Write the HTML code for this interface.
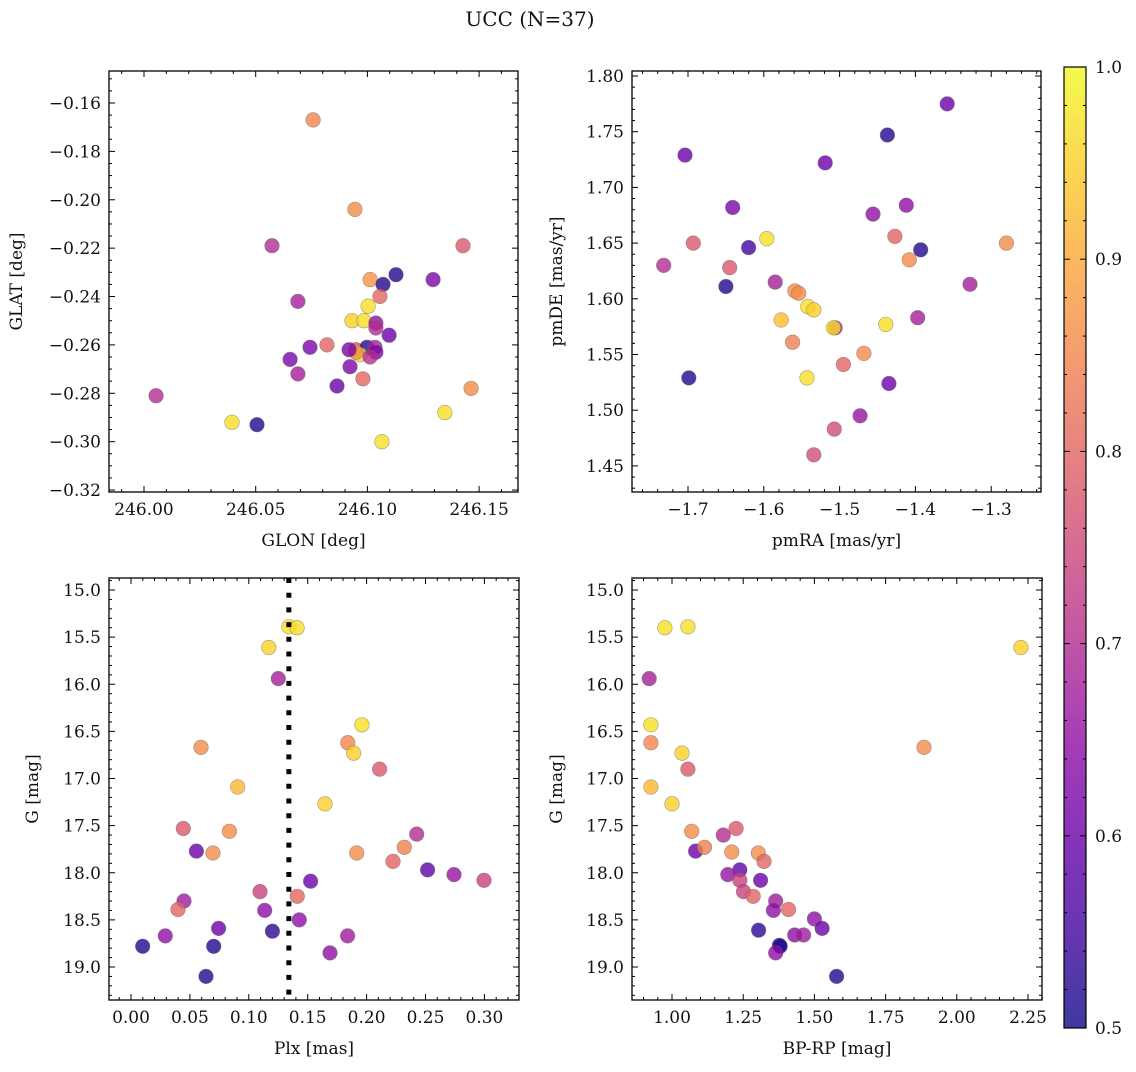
<!DOCTYPE html>
<html><head><meta charset="utf-8"><style>
html,body{margin:0;padding:0;background:#fff}
svg text{font-family:"DejaVu Serif","Liberation Serif",serif;fill:#111}
</style></head><body>
<svg id="fig" xmlns="http://www.w3.org/2000/svg" width="1136" height="1067" viewBox="0 0 1136 1067">
<defs>
<linearGradient id="cgrad" x1="0" y1="1" x2="0" y2="0">
<stop offset="0" stop-color="#0d0887"/><stop offset="0.1" stop-color="#41049d"/><stop offset="0.2" stop-color="#6a00a8"/><stop offset="0.3" stop-color="#8f0da4"/><stop offset="0.4" stop-color="#b12a90"/><stop offset="0.5" stop-color="#cc4778"/><stop offset="0.6" stop-color="#e16462"/><stop offset="0.7" stop-color="#f2844b"/><stop offset="0.8" stop-color="#fca636"/><stop offset="0.9" stop-color="#fcce25"/><stop offset="1" stop-color="#f0f921"/>
</linearGradient>
</defs>
<text x="530" y="26" font-size="20" text-anchor="middle">UCC (N=37)</text>
<g id="layer"></g>
</svg>
<script>
// ---- data (per panel) ----
const glon = [246.0757,246.0944,246.0573,246.1428,246.1012,246.1128,246.1070,246.1056,246.1294,246.0689,246.1003,246.0931,246.0985,246.1038,246.1038,246.1097,246.0949,246.0998,246.1034,246.1038,246.0967,246.0949,246.0819,246.0743,246.0654,246.0689,246.0922,246.0980,246.0864,246.0054,246.0394,246.0506,246.1347,246.1464,246.1065,246.0918,246.1012];
const glat = [-0.167,-0.204,-0.219,-0.219,-0.233,-0.231,-0.235,-0.240,-0.233,-0.242,-0.244,-0.250,-0.250,-0.251,-0.253,-0.256,-0.262,-0.261,-0.261,-0.263,-0.264,-0.263,-0.260,-0.261,-0.266,-0.272,-0.269,-0.274,-0.277,-0.281,-0.292,-0.293,-0.288,-0.278,-0.300,-0.262,-0.265];
const probTL = [0.85,0.86,0.70,0.78,0.87,0.52,0.52,0.80,0.62,0.68,0.97,0.95,0.97,0.65,0.70,0.60,0.78,0.52,0.68,0.62,0.97,0.87,0.80,0.62,0.62,0.68,0.62,0.80,0.60,0.70,0.97,0.52,0.97,0.86,0.97,0.62,0.70];

const pmra = [-1.704,-1.358,-1.437,-1.519,-1.641,-1.456,-1.412,-1.620,-1.596,-1.693,-1.427,-1.393,-1.408,-1.280,-1.732,-1.645,-1.650,-1.585,-1.328,-1.559,-1.554,-1.542,-1.534,-1.577,-1.439,-1.397,-1.506,-1.508,-1.562,-1.468,-1.495,-1.699,-1.543,-1.435,-1.473,-1.507,-1.534];
const pmde = [1.729,1.775,1.747,1.722,1.682,1.676,1.684,1.646,1.654,1.650,1.656,1.644,1.635,1.650,1.630,1.628,1.611,1.615,1.613,1.607,1.605,1.593,1.590,1.581,1.577,1.583,1.574,1.574,1.561,1.551,1.541,1.529,1.529,1.524,1.495,1.483,1.460];
const probTR = [0.60,0.60,0.52,0.60,0.62,0.65,0.65,0.55,0.97,0.78,0.80,0.52,0.86,0.86,0.70,0.78,0.52,0.68,0.68,0.86,0.86,0.97,0.95,0.93,0.97,0.68,0.68,0.97,0.84,0.86,0.80,0.52,0.97,0.60,0.66,0.76,0.76];

const plx = [0.134,0.141,0.117,0.125,0.196,0.184,0.189,0.211,0.0594,0.0906,0.1647,0.0444,0.0835,0.0555,0.0696,0.1916,0.2425,0.232,0.2224,0.2518,0.2742,0.2997,0.1525,0.1095,0.1412,0.045,0.0399,0.1135,0.1429,0.0744,0.12,0.0291,0.1839,0.0099,0.0702,0.1689,0.0637];
const gmag = [15.39,15.40,15.61,15.94,16.43,16.62,16.73,16.90,16.67,17.09,17.27,17.53,17.56,17.77,17.79,17.79,17.59,17.73,17.88,17.97,18.02,18.08,18.09,18.20,18.25,18.30,18.39,18.40,18.50,18.59,18.62,18.67,18.67,18.78,18.78,18.85,19.10];
const probBL = [0.97,0.97,0.95,0.68,0.97,0.85,0.95,0.78,0.86,0.92,0.95,0.78,0.86,0.60,0.86,0.86,0.70,0.84,0.80,0.58,0.66,0.74,0.60,0.74,0.80,0.67,0.80,0.65,0.65,0.60,0.53,0.65,0.67,0.52,0.52,0.65,0.52];
const plxCut = [0.134];

const bprp = [1.056,0.975,2.225,0.92,0.926,0.926,1.035,1.056,1.885,0.926,1.0,1.180,1.069,1.083,1.21,1.303,1.225,1.114,1.323,1.238,1.196,1.238,1.311,1.251,1.285,1.364,1.409,1.356,1.5,1.527,1.304,1.431,1.462,1.377,1.38,1.364,1.578];
const gBR = [15.39,15.40,15.61,15.94,16.43,16.62,16.73,16.90,16.67,17.09,17.27,17.60,17.56,17.77,17.78,17.79,17.53,17.73,17.88,17.97,18.02,18.08,18.08,18.20,18.25,18.30,18.39,18.40,18.49,18.59,18.61,18.66,18.66,18.77,18.78,18.85,19.10];
const probBR = [0.97,0.97,0.95,0.68,0.97,0.85,0.95,0.78,0.86,0.92,0.95,0.70,0.86,0.60,0.86,0.86,0.78,0.84,0.80,0.58,0.66,0.74,0.60,0.74,0.80,0.67,0.80,0.65,0.65,0.60,0.53,0.65,0.67,0.50,0.52,0.65,0.52];

const cbTicks = [0.5,0.6,0.7,0.8,0.9,1.0];

// ---- helpers ----
const NS="http://www.w3.org/2000/svg";
const layer=document.getElementById('layer');
function mk(tag,attrs,parent){const e=document.createElementNS(NS,tag);for(const k in attrs)e.setAttribute(k,attrs[k]);(parent||layer).appendChild(e);return e;}
const stops=[[13,8,135],[65,4,157],[106,0,168],[143,13,164],[177,42,144],[204,71,120],[225,100,98],[242,132,75],[252,166,54],[252,206,37],[240,249,33]];
function plasma(p){let t=Math.max(0,Math.min(1,(p-0.5)/0.5))*10;const i=Math.min(9,Math.floor(t));const f=t-i;const a=stops[i],b=stops[i+1];return 'rgb('+a.map((v,k)=>Math.round(v+(b[k]-v)*f)).join(',')+')';}
function fmt(v,d){const s=Math.abs(v).toFixed(d);return (v<-1e-9?'\u2212':'')+s;}

function panel(o){
  const g=mk('g',{});
  
  
  const [L,R,T,B]=o.frame;
  const pg=mk('g',{},g);
  
  
  o.xs.forEach((xv,i)=>{
    const c=mk('circle',{cx:o.sx(xv).toFixed(1),cy:o.sy(o.ys[i]).toFixed(1),r:7.3,fill:plasma(o.ps[i]),'fill-opacity':0.8,stroke:'#666','stroke-opacity':0.6,'stroke-width':0.6},pg);
    
    
  });
  if(o.extra)o.extra(g);
  const fr=mk('rect',{x:L,y:T,width:R-L,height:B-T,fill:'none',stroke:'#000','stroke-width':1.3},g);
  
  
  const xt=mk('g',{},g);
  
  
  for(let k=Math.ceil(o.xmin/o.xminor-1e-6);k*o.xminor<=o.xmax+1e-9;k++){
    const v=k*o.xminor;const x=o.sx(v);if(x<L-0.5||x>R+0.5)continue;
    const major=Math.abs(v/o.xmajor-Math.round(v/o.xmajor))<1e-6;const len=major?6:3;
    mk('line',{x1:x,x2:x,y1:B,y2:B-len,stroke:'#000','stroke-width':1},xt);
    mk('line',{x1:x,x2:x,y1:T,y2:T+len,stroke:'#000','stroke-width':1},xt);
    if(major){const t=mk('text',{x:x,y:B+23,'font-size':17,'text-anchor':'middle'},xt);t.textContent=fmt(v,o.xdec);
      
      }
  }
  const yt=mk('g',{},g);
  
  
  for(let k=Math.ceil(o.ymin/o.yminor-1e-6);k*o.yminor<=o.ymax+1e-9;k++){
    const v=k*o.yminor;const y=o.sy(v);if(y<T-0.5||y>B+0.5)continue;
    const major=Math.abs(v/o.ymajor-Math.round(v/o.ymajor))<1e-6;const len=major?6:3;
    mk('line',{x1:L,x2:L+len,y1:y,y2:y,stroke:'#000','stroke-width':1},yt);
    mk('line',{x1:R,x2:R-len,y1:y,y2:y,stroke:'#000','stroke-width':1},yt);
    if(major){const t=mk('text',{x:L-8,y:y+6,'font-size':17,'text-anchor':'end'},yt);t.textContent=fmt(v,o.ydec);
      
      }
  }
  const xl=mk('text',{x:(L+R)/2,y:B+54,'font-size':17,'text-anchor':'middle'},g);xl.textContent=o.xlabel;
  
  
  const yl=mk('text',{x:0,y:0,'font-size':17,'text-anchor':'middle',transform:'translate('+o.ylx+','+(T+B)/2+') rotate(-90)'},g);yl.textContent=o.ylabel;
  
  
}

panel({name:'glon-glat-panel',frame:[109,518,71,492],xs:glon,ys:glat,ps:probTL,
  sx:v=>144+(v-246)*2234, sy:v=>103+(-0.16-v)*2419,
  xmin:245.98,xmax:246.17,xminor:0.01,xmajor:0.05,xdec:2,
  ymin:-0.33,ymax:-0.14,yminor:0.005,ymajor:0.02,ydec:2,
  xlabel:'GLON [deg]',ylabel:'GLAT [deg]',ylx:22});
panel({name:'pm-panel',frame:[632,1041,71,492],xs:pmra,ys:pmde,ps:probTR,
  sx:v=>688+(v+1.7)*758, sy:v=>76+(1.80-v)*1114,
  xmin:-1.8,xmax:-1.2,xminor:0.02,xmajor:0.1,xdec:1,
  ymin:1.4,ymax:1.82,yminor:0.01,ymajor:0.05,ydec:2,
  xlabel:'pmRA [mas/yr]',ylabel:'pmDE [mas/yr]',ylx:562});
panel({name:'plx-g-panel',frame:[109,519,578,1000],xs:plx,ys:gmag,ps:probBL,
  sx:v=>131+v*1178, sy:v=>590+(v-15)*94.25,
  xmin:-0.02,xmax:0.34,xminor:0.01,xmajor:0.05,xdec:2,
  ymin:14.8,ymax:19.5,yminor:0.1,ymajor:0.5,ydec:1,
  xlabel:'Plx [mas]',ylabel:'G [mag]',ylx:38,
  extra:g=>{const x=131+plxCut[0]*1178;const l=mk('line',{x1:x,x2:x,y1:578,y2:1000,stroke:'#000','stroke-width':5,'stroke-dasharray':'5,9.7'},g);
    
    }});
panel({name:'cmd-panel',frame:[632,1042,578,1000],xs:bprp,ys:gBR,ps:probBR,
  sx:v=>672+(v-1)*284.8, sy:v=>590+(v-15)*94.25,
  xmin:0.8,xmax:2.35,xminor:0.05,xmajor:0.25,xdec:2,
  ymin:14.8,ymax:19.5,yminor:0.1,ymajor:0.5,ydec:1,
  xlabel:'BP-RP [mag]',ylabel:'G [mag]',ylx:562});

const cb=mk('g',{});


const cT=67,cB=1028,cL=1064,cR=1086;
mk('rect',{x:cL,y:cT,width:cR-cL,height:cB-cT,fill:'url(#cgrad)','fill-opacity':0.8},cb);
mk('rect',{x:cL,y:cT,width:cR-cL,height:cB-cT,fill:'none',stroke:'#000','stroke-width':1.2},cb);
const cy=v=>cB-(v-0.5)/0.5*(cB-cT);
for(let k=50;k<=100;k+=2){const v=k/100;const major=k%10===0;const y=cy(v);
  mk('line',{x1:cR,x2:cR-(major?6:3),y1:y,y2:y,stroke:'#000','stroke-width':1},cb);
  mk('line',{x1:cL,x2:cL+(major?6:3),y1:y,y2:y,stroke:'#000','stroke-width':1},cb);}
cbTicks.forEach(v=>{const t=mk('text',{x:1095,y:cy(v)+6,'font-size':17},cb);t.textContent=v.toFixed(1);
  
  });
</script>
</body></html>
